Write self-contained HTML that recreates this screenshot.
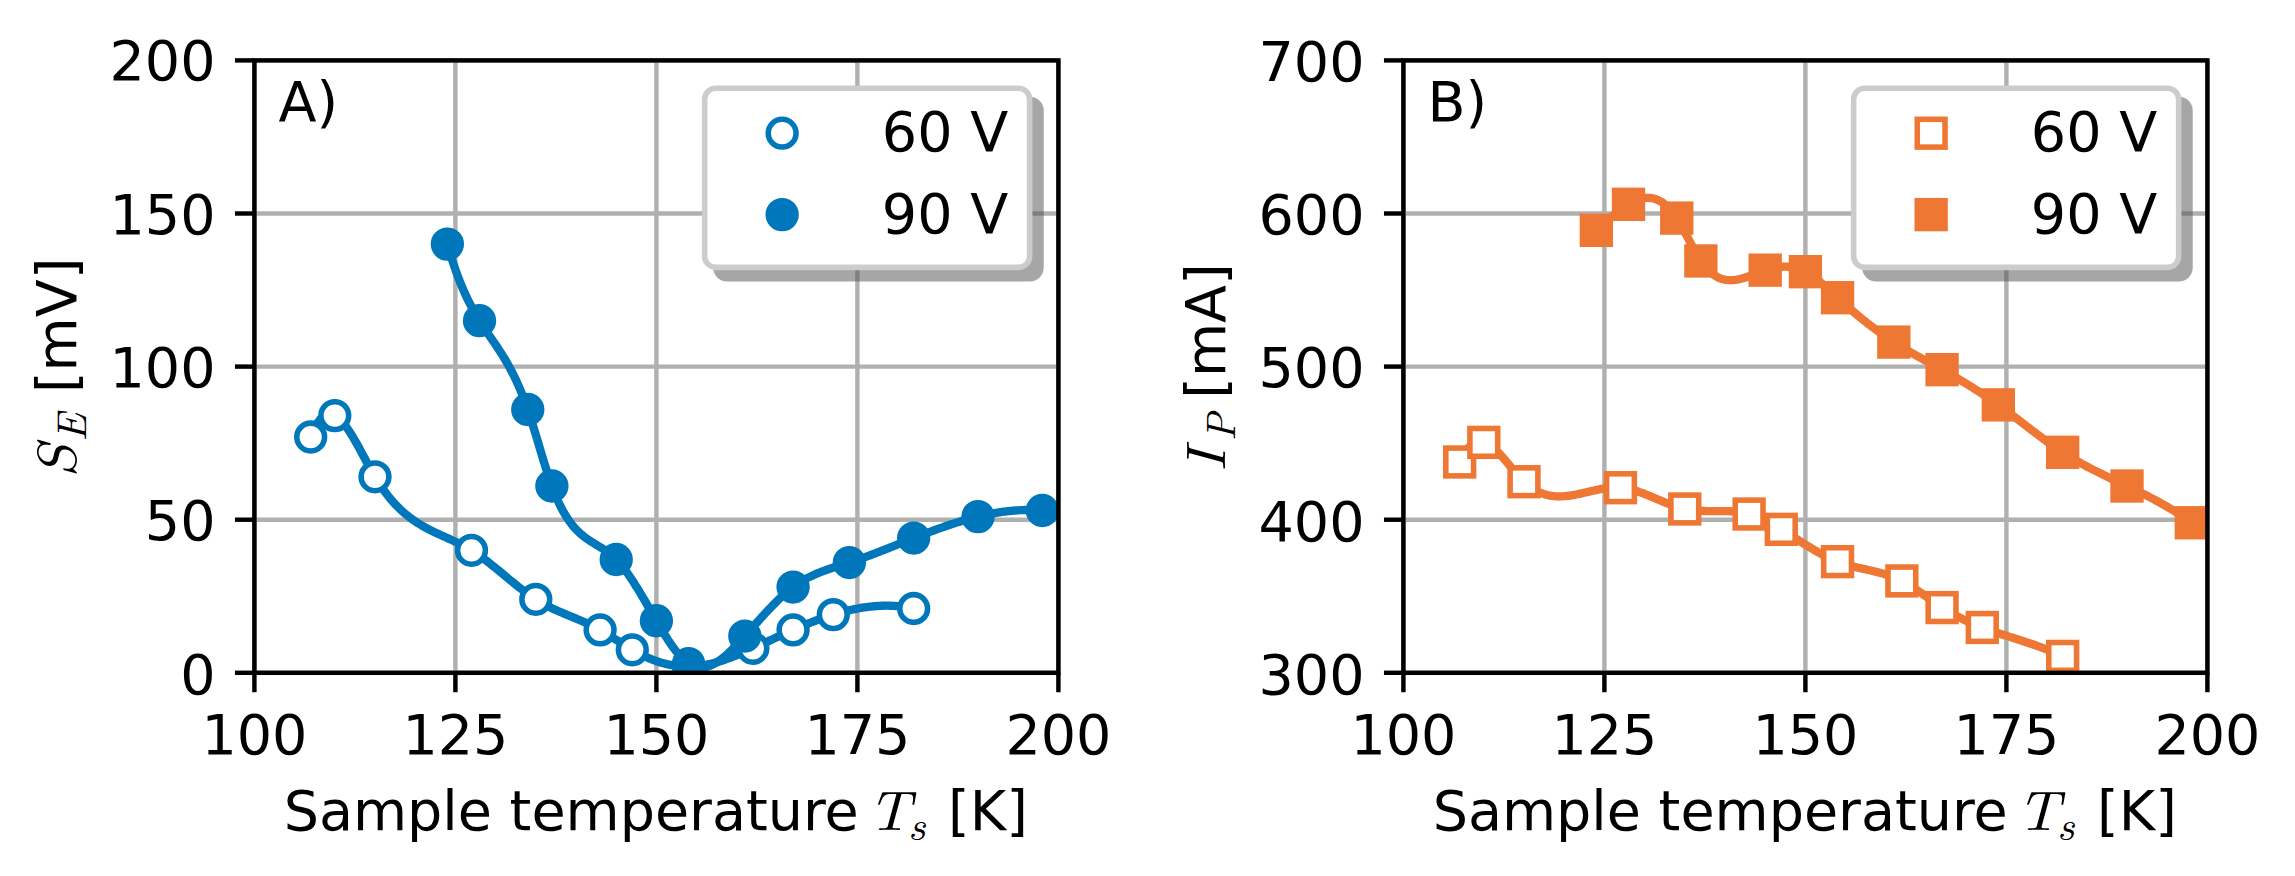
<!DOCTYPE html>
<html><head><meta charset="utf-8"><title>Figure</title>
<style>html,body{margin:0;padding:0;background:#fff}svg{display:block}</style></head><body>
<svg width="2295" height="876" viewBox="0 0 2295 876">
<rect width="2295" height="876" fill="#fff"/>
<clipPath id="clipA"><rect x="254.4" y="60.4" width="804.0000000000001" height="612.4"/></clipPath>
<g stroke="#b0b0b0" stroke-width="4.44" fill="none">
<line x1="254.40" y1="672.8" x2="254.40" y2="60.4"/>
<line x1="455.40" y1="672.8" x2="455.40" y2="60.4"/>
<line x1="656.40" y1="672.8" x2="656.40" y2="60.4"/>
<line x1="857.40" y1="672.8" x2="857.40" y2="60.4"/>
<line x1="1058.40" y1="672.8" x2="1058.40" y2="60.4"/>
<line x1="254.4" y1="672.80" x2="1058.4" y2="672.80"/>
<line x1="254.4" y1="519.70" x2="1058.4" y2="519.70"/>
<line x1="254.4" y1="366.60" x2="1058.4" y2="366.60"/>
<line x1="254.4" y1="213.50" x2="1058.4" y2="213.50"/>
<line x1="254.4" y1="60.40" x2="1058.4" y2="60.40"/>
</g>
<g clip-path="url(#clipA)">
<polyline points="310.68,437.03 312.19,433.27 313.70,429.90 315.21,426.88 316.73,424.21 318.24,421.89 319.75,419.89 321.26,418.21 322.77,416.84 324.28,415.76 325.79,414.97 327.30,414.46 328.82,414.21 330.33,414.21 331.84,414.45 333.35,414.93 334.86,415.62 336.37,416.53 337.88,417.63 339.39,418.92 340.91,420.39 342.42,422.03 343.93,423.81 345.44,425.75 346.95,427.81 348.46,430.00 349.97,432.30 351.48,434.70 353.00,437.20 354.51,439.76 356.02,442.40 357.53,445.10 359.04,447.84 360.55,450.62 362.06,453.42 363.57,456.23 365.09,459.05 366.60,461.86 368.11,464.65 369.62,467.41 371.13,470.13 372.64,472.80 374.15,475.40 375.66,477.94 377.18,480.39 378.69,482.77 380.20,485.07 381.71,487.30 383.22,489.46 384.73,491.54 386.24,493.56 387.76,495.51 389.27,497.40 390.78,499.22 392.29,500.98 393.80,502.68 395.31,504.32 396.82,505.91 398.33,507.44 399.85,508.92 401.36,510.35 402.87,511.73 404.38,513.05 405.89,514.34 407.40,515.58 408.91,516.77 410.42,517.93 411.94,519.04 413.45,520.12 414.96,521.16 416.47,522.17 417.98,523.14 419.49,524.08 421.00,525.00 422.51,525.89 424.03,526.75 425.54,527.58 427.05,528.40 428.56,529.19 430.07,529.97 431.58,530.72 433.09,531.46 434.60,532.19 436.12,532.91 437.63,533.61 439.14,534.31 440.65,535.00 442.16,535.69 443.67,536.37 445.18,537.04 446.70,537.72 448.21,538.40 449.72,539.09 451.23,539.78 452.74,540.47 454.25,541.17 455.76,541.89 457.27,542.61 458.79,543.35 460.30,544.10 461.81,544.88 463.32,545.66 464.83,546.47 466.34,547.31 467.85,548.16 469.36,549.04 470.88,549.95 472.39,550.89 473.90,551.85 475.41,552.84 476.92,553.86 478.43,554.90 479.94,555.97 481.45,557.06 482.97,558.17 484.48,559.30 485.99,560.44 487.50,561.60 489.01,562.78 490.52,563.97 492.03,565.17 493.54,566.39 495.06,567.61 496.57,568.85 498.08,570.08 499.59,571.33 501.10,572.58 502.61,573.83 504.12,575.08 505.63,576.34 507.15,577.59 508.66,578.84 510.17,580.09 511.68,581.33 513.19,582.56 514.70,583.79 516.21,585.00 517.73,586.21 519.24,587.40 520.75,588.58 522.26,589.75 523.77,590.90 525.28,592.03 526.79,593.14 528.30,594.24 529.82,595.31 531.33,596.36 532.84,597.38 534.35,598.38 535.86,599.35 537.37,600.29 538.88,601.21 540.39,602.10 541.91,602.97 543.42,603.81 544.93,604.63 546.44,605.43 547.95,606.21 549.46,606.97 550.97,607.71 552.48,608.44 554.00,609.15 555.51,609.85 557.02,610.53 558.53,611.21 560.04,611.87 561.55,612.53 563.06,613.17 564.57,613.81 566.09,614.45 567.60,615.08 569.11,615.71 570.62,616.33 572.13,616.96 573.64,617.59 575.15,618.21 576.66,618.85 578.18,619.48 579.69,620.12 581.20,620.77 582.71,621.42 584.22,622.09 585.73,622.76 587.24,623.45 588.76,624.15 590.27,624.86 591.78,625.59 593.29,626.33 594.80,627.09 596.31,627.87 597.82,628.67 599.33,629.50 600.85,630.34 602.36,631.21 603.87,632.09 605.38,632.99 606.89,633.91 608.40,634.85 609.91,635.79 611.42,636.75 612.94,637.71 614.45,638.68 615.96,639.65 617.47,640.62 618.98,641.60 620.49,642.57 622.00,643.53 623.51,644.49 625.03,645.45 626.54,646.39 628.05,647.32 629.56,648.23 631.07,649.13 632.58,650.01 634.09,650.87 635.60,651.71 637.12,652.53 638.63,653.32 640.14,654.10 641.65,654.86 643.16,655.59 644.67,656.30 646.18,656.99 647.70,657.66 649.21,658.31 650.72,658.93 652.23,659.53 653.74,660.11 655.25,660.67 656.76,661.20 658.27,661.71 659.79,662.19 661.30,662.66 662.81,663.09 664.32,663.51 665.83,663.90 667.34,664.26 668.85,664.60 670.36,664.92 671.88,665.21 673.39,665.47 674.90,665.71 676.41,665.92 677.92,666.11 679.43,666.27 680.94,666.40 682.45,666.51 683.97,666.59 685.48,666.65 686.99,666.68 688.50,666.68 690.01,666.65 691.52,666.59 693.03,666.51 694.54,666.41 696.06,666.28 697.57,666.12 699.08,665.94 700.59,665.73 702.10,665.51 703.61,665.26 705.12,664.98 706.63,664.69 708.15,664.38 709.66,664.04 711.17,663.69 712.68,663.31 714.19,662.92 715.70,662.51 717.21,662.08 718.73,661.64 720.24,661.18 721.75,660.70 723.26,660.21 724.77,659.70 726.28,659.18 727.79,658.65 729.30,658.10 730.82,657.54 732.33,656.97 733.84,656.39 735.35,655.79 736.86,655.19 738.37,654.58 739.88,653.95 741.39,653.32 742.91,652.68 744.42,652.04 745.93,651.38 747.44,650.72 748.95,650.06 750.46,649.39 751.97,648.71 753.48,648.03 755.00,647.35 756.51,646.66 758.02,645.97 759.53,645.28 761.04,644.59 762.55,643.89 764.06,643.19 765.57,642.50 767.09,641.80 768.60,641.10 770.11,640.39 771.62,639.69 773.13,638.99 774.64,638.29 776.15,637.59 777.66,636.90 779.18,636.20 780.69,635.51 782.20,634.82 783.71,634.13 785.22,633.44 786.73,632.76 788.24,632.08 789.76,631.40 791.27,630.73 792.78,630.06 794.29,629.40 795.80,628.75 797.31,628.09 798.82,627.45 800.33,626.81 801.85,626.17 803.36,625.55 804.87,624.92 806.38,624.31 807.89,623.70 809.40,623.10 810.91,622.50 812.42,621.91 813.94,621.33 815.45,620.76 816.96,620.19 818.47,619.63 819.98,619.08 821.49,618.54 823.00,618.01 824.51,617.48 826.03,616.97 827.54,616.46 829.05,615.96 830.56,615.48 832.07,615.00 833.58,614.53 835.09,614.07 836.60,613.62 838.12,613.18 839.63,612.75 841.14,612.34 842.65,611.93 844.16,611.54 845.67,611.15 847.18,610.78 848.70,610.42 850.21,610.07 851.72,609.73 853.23,609.40 854.74,609.09 856.25,608.79 857.76,608.50 859.27,608.23 860.79,607.97 862.30,607.72 863.81,607.48 865.32,607.26 866.83,607.06 868.34,606.86 869.85,606.68 871.36,606.52 872.88,606.37 874.39,606.23 875.90,606.11 877.41,606.01 878.92,605.92 880.43,605.84 881.94,605.78 883.45,605.74 884.97,605.71 886.48,605.70 887.99,605.71 889.50,605.73 891.01,605.77 892.52,605.82 894.03,605.90 895.54,605.99 897.06,606.10 898.57,606.22 900.08,606.37 901.59,606.53 903.10,606.71 904.61,606.91 906.12,607.12 907.63,607.36 909.15,607.62 910.66,607.89 912.17,608.18 913.68,608.50" fill="none" stroke="#0077bb" stroke-width="8.33" stroke-linejoin="round" stroke-linecap="butt"/>
<circle cx="310.68" cy="437.03" r="13.89" fill="#ffffff" stroke="#0077bb" stroke-width="5.56"/>
<circle cx="334.80" cy="415.59" r="13.89" fill="#ffffff" stroke="#0077bb" stroke-width="5.56"/>
<circle cx="375.00" cy="476.83" r="13.89" fill="#ffffff" stroke="#0077bb" stroke-width="5.56"/>
<circle cx="471.48" cy="550.32" r="13.89" fill="#ffffff" stroke="#0077bb" stroke-width="5.56"/>
<circle cx="535.80" cy="599.31" r="13.89" fill="#ffffff" stroke="#0077bb" stroke-width="5.56"/>
<circle cx="600.12" cy="629.93" r="13.89" fill="#ffffff" stroke="#0077bb" stroke-width="5.56"/>
<circle cx="632.28" cy="649.83" r="13.89" fill="#ffffff" stroke="#0077bb" stroke-width="5.56"/>
<circle cx="688.56" cy="666.68" r="13.89" fill="#ffffff" stroke="#0077bb" stroke-width="5.56"/>
<circle cx="752.88" cy="648.30" r="13.89" fill="#ffffff" stroke="#0077bb" stroke-width="5.56"/>
<circle cx="793.08" cy="629.93" r="13.89" fill="#ffffff" stroke="#0077bb" stroke-width="5.56"/>
<circle cx="833.28" cy="614.62" r="13.89" fill="#ffffff" stroke="#0077bb" stroke-width="5.56"/>
<circle cx="913.68" cy="608.50" r="13.89" fill="#ffffff" stroke="#0077bb" stroke-width="5.56"/>
<polyline points="447.36,244.12 448.85,249.28 450.34,254.23 451.83,258.99 453.32,263.56 454.82,267.95 456.31,272.16 457.80,276.21 459.29,280.10 460.78,283.83 462.27,287.42 463.76,290.86 465.25,294.18 466.74,297.37 468.24,300.45 469.73,303.42 471.22,306.28 472.71,309.05 474.20,311.72 475.69,314.32 477.18,316.85 478.67,319.30 480.16,321.70 481.66,324.04 483.15,326.34 484.64,328.60 486.13,330.83 487.62,333.04 489.11,335.23 490.60,337.41 492.09,339.59 493.58,341.77 495.08,343.96 496.57,346.18 498.06,348.42 499.55,350.69 501.04,353.01 502.53,355.37 504.02,357.79 505.51,360.27 507.01,362.82 508.50,365.44 509.99,368.15 511.48,370.95 512.97,373.85 514.46,376.86 515.95,379.97 517.44,383.21 518.93,386.57 520.43,390.07 521.92,393.71 523.41,397.50 524.90,401.44 526.39,405.55 527.88,409.82 529.37,414.27 530.86,418.86 532.35,423.59 533.85,428.41 535.34,433.32 536.83,438.28 538.32,443.27 539.81,448.27 541.30,453.25 542.79,458.19 544.28,463.06 545.77,467.85 547.27,472.52 548.76,477.06 550.25,481.44 551.74,485.63 553.23,489.62 554.72,493.40 556.21,496.99 557.70,500.39 559.19,503.60 560.69,506.64 562.18,509.50 563.67,512.21 565.16,514.76 566.65,517.16 568.14,519.42 569.63,521.55 571.12,523.55 572.61,525.43 574.11,527.19 575.60,528.85 577.09,530.42 578.58,531.88 580.07,533.27 581.56,534.57 583.05,535.81 584.54,536.98 586.03,538.09 587.53,539.15 589.02,540.17 590.51,541.16 592.00,542.11 593.49,543.05 594.98,543.96 596.47,544.87 597.96,545.78 599.46,546.70 600.95,547.63 602.44,548.57 603.93,549.55 605.42,550.56 606.91,551.61 608.40,552.71 609.89,553.86 611.38,555.07 612.88,556.36 614.37,557.72 615.86,559.16 617.35,560.69 618.84,562.32 620.33,564.02 621.82,565.81 623.31,567.67 624.80,569.61 626.30,571.62 627.79,573.69 629.28,575.82 630.77,578.01 632.26,580.26 633.75,582.55 635.24,584.89 636.73,587.27 638.22,589.69 639.72,592.14 641.21,594.63 642.70,597.14 644.19,599.67 645.68,602.22 647.17,604.78 648.66,607.36 650.15,609.94 651.64,612.53 653.14,615.11 654.63,617.69 656.12,620.26 657.61,622.82 659.10,625.36 660.59,627.87 662.08,630.36 663.57,632.81 665.06,635.22 666.56,637.59 668.05,639.91 669.54,642.16 671.03,644.36 672.52,646.49 674.01,648.54 675.50,650.52 676.99,652.41 678.48,654.21 679.98,655.92 681.47,657.53 682.96,659.03 684.45,660.41 685.94,661.68 687.43,662.83 688.92,663.85 690.41,664.74 691.90,665.50 693.40,666.13 694.89,666.64 696.38,667.03 697.87,667.31 699.36,667.48 700.85,667.53 702.34,667.49 703.83,667.34 705.33,667.09 706.82,666.74 708.31,666.31 709.80,665.78 711.29,665.17 712.78,664.48 714.27,663.71 715.76,662.86 717.25,661.94 718.75,660.96 720.24,659.90 721.73,658.79 723.22,657.62 724.71,656.39 726.20,655.11 727.69,653.78 729.18,652.40 730.67,650.98 732.17,649.53 733.66,648.04 735.15,646.51 736.64,644.96 738.13,643.38 739.62,641.78 741.11,640.16 742.60,638.53 744.09,636.88 745.59,635.23 747.08,633.57 748.57,631.90 750.06,630.23 751.55,628.56 753.04,626.88 754.53,625.21 756.02,623.54 757.51,621.87 759.01,620.21 760.50,618.56 761.99,616.91 763.48,615.28 764.97,613.66 766.46,612.04 767.95,610.45 769.44,608.86 770.93,607.30 772.43,605.75 773.92,604.23 775.41,602.72 776.90,601.24 778.39,599.79 779.88,598.36 781.37,596.95 782.86,595.58 784.35,594.24 785.85,592.92 787.34,591.65 788.83,590.40 790.32,589.20 791.81,588.03 793.30,586.90 794.79,585.81 796.28,584.76 797.78,583.75 799.27,582.77 800.76,581.83 802.25,580.92 803.74,580.05 805.23,579.21 806.72,578.40 808.21,577.61 809.70,576.86 811.20,576.13 812.69,575.43 814.18,574.75 815.67,574.09 817.16,573.46 818.65,572.84 820.14,572.25 821.63,571.67 823.12,571.11 824.62,570.56 826.11,570.03 827.60,569.51 829.09,569.00 830.58,568.50 832.07,568.01 833.56,567.53 835.05,567.06 836.54,566.59 838.04,566.12 839.53,565.66 841.02,565.19 842.51,564.73 844.00,564.27 845.49,563.80 846.98,563.33 848.47,562.85 849.96,562.37 851.46,561.88 852.95,561.39 854.44,560.89 855.93,560.38 857.42,559.86 858.91,559.34 860.40,558.82 861.89,558.29 863.38,557.75 864.88,557.21 866.37,556.66 867.86,556.11 869.35,555.56 870.84,555.00 872.33,554.43 873.82,553.87 875.31,553.30 876.80,552.72 878.30,552.14 879.79,551.56 881.28,550.98 882.77,550.40 884.26,549.81 885.75,549.22 887.24,548.63 888.73,548.03 890.22,547.44 891.72,546.84 893.21,546.25 894.70,545.65 896.19,545.05 897.68,544.45 899.17,543.86 900.66,543.26 902.15,542.66 903.65,542.06 905.14,541.47 906.63,540.87 908.12,540.28 909.61,539.68 911.10,539.09 912.59,538.50 914.08,537.91 915.57,537.33 917.07,536.74 918.56,536.16 920.05,535.59 921.54,535.01 923.03,534.44 924.52,533.87 926.01,533.30 927.50,532.74 928.99,532.18 930.49,531.62 931.98,531.07 933.47,530.52 934.96,529.98 936.45,529.44 937.94,528.90 939.43,528.37 940.92,527.85 942.41,527.33 943.91,526.81 945.40,526.30 946.89,525.79 948.38,525.29 949.87,524.79 951.36,524.30 952.85,523.82 954.34,523.34 955.83,522.87 957.33,522.40 958.82,521.94 960.31,521.48 961.80,521.04 963.29,520.60 964.78,520.16 966.27,519.74 967.76,519.32 969.25,518.90 970.75,518.50 972.24,518.10 973.73,517.71 975.22,517.33 976.71,516.95 978.20,516.59 979.69,516.23 981.18,515.88 982.67,515.54 984.17,515.21 985.66,514.89 987.15,514.57 988.64,514.27 990.13,513.97 991.62,513.68 993.11,513.41 994.60,513.14 996.10,512.88 997.59,512.63 999.08,512.40 1000.57,512.17 1002.06,511.95 1003.55,511.74 1005.04,511.55 1006.53,511.36 1008.02,511.19 1009.52,511.03 1011.01,510.87 1012.50,510.73 1013.99,510.60 1015.48,510.49 1016.97,510.38 1018.46,510.29 1019.95,510.20 1021.44,510.13 1022.94,510.08 1024.43,510.03 1025.92,510.00 1027.41,509.98 1028.90,509.97 1030.39,509.98 1031.88,510.00 1033.37,510.03 1034.86,510.08 1036.36,510.14 1037.85,510.21 1039.34,510.30 1040.83,510.40 1042.32,510.51" fill="none" stroke="#0077bb" stroke-width="8.33" stroke-linejoin="round" stroke-linecap="butt"/>
<circle cx="447.36" cy="244.12" r="13.89" fill="#0077bb" stroke="#0077bb" stroke-width="5.56"/>
<circle cx="479.52" cy="320.67" r="13.89" fill="#0077bb" stroke="#0077bb" stroke-width="5.56"/>
<circle cx="527.76" cy="409.47" r="13.89" fill="#0077bb" stroke="#0077bb" stroke-width="5.56"/>
<circle cx="551.88" cy="486.02" r="13.89" fill="#0077bb" stroke="#0077bb" stroke-width="5.56"/>
<circle cx="616.20" cy="559.51" r="13.89" fill="#0077bb" stroke="#0077bb" stroke-width="5.56"/>
<circle cx="656.40" cy="620.75" r="13.89" fill="#0077bb" stroke="#0077bb" stroke-width="5.56"/>
<circle cx="688.56" cy="663.61" r="13.89" fill="#0077bb" stroke="#0077bb" stroke-width="5.56"/>
<circle cx="744.84" cy="636.06" r="13.89" fill="#0077bb" stroke="#0077bb" stroke-width="5.56"/>
<circle cx="793.08" cy="587.06" r="13.89" fill="#0077bb" stroke="#0077bb" stroke-width="5.56"/>
<circle cx="849.36" cy="562.57" r="13.89" fill="#0077bb" stroke="#0077bb" stroke-width="5.56"/>
<circle cx="913.68" cy="538.07" r="13.89" fill="#0077bb" stroke="#0077bb" stroke-width="5.56"/>
<circle cx="978.00" cy="516.64" r="13.89" fill="#0077bb" stroke="#0077bb" stroke-width="5.56"/>
<circle cx="1042.32" cy="510.51" r="13.89" fill="#0077bb" stroke="#0077bb" stroke-width="5.56"/>
</g>
<g stroke="#000" stroke-width="4.44" fill="none">
<line x1="254.40" y1="672.8" x2="254.40" y2="692.24"/>
<line x1="455.40" y1="672.8" x2="455.40" y2="692.24"/>
<line x1="656.40" y1="672.8" x2="656.40" y2="692.24"/>
<line x1="857.40" y1="672.8" x2="857.40" y2="692.24"/>
<line x1="1058.40" y1="672.8" x2="1058.40" y2="692.24"/>
<line x1="254.4" y1="672.80" x2="234.96" y2="672.80"/>
<line x1="254.4" y1="519.70" x2="234.96" y2="519.70"/>
<line x1="254.4" y1="366.60" x2="234.96" y2="366.60"/>
<line x1="254.4" y1="213.50" x2="234.96" y2="213.50"/>
<line x1="254.4" y1="60.40" x2="234.96" y2="60.40"/>
<rect x="254.4" y="60.4" width="804.0000000000001" height="612.4" stroke-linejoin="miter"/>
</g>
<g font-family='"DejaVu Sans", "Liberation Sans", sans-serif' font-size="55.56" fill="#000">
<text x="254.40" y="754.4" text-anchor="middle">100</text>
<text x="455.40" y="754.4" text-anchor="middle">125</text>
<text x="656.40" y="754.4" text-anchor="middle">150</text>
<text x="857.40" y="754.4" text-anchor="middle">175</text>
<text x="1058.40" y="754.4" text-anchor="middle">200</text>
<text x="215.52" y="693.90" text-anchor="end">0</text>
<text x="215.52" y="540.00" text-anchor="end">50</text>
<text x="215.52" y="386.70" text-anchor="end">100</text>
<text x="215.52" y="233.60" text-anchor="end">150</text>
<text x="215.52" y="80.20" text-anchor="end">200</text>
<text x="278.40" y="120.6">A)</text>
</g>
<clipPath id="clipB"><rect x="1403.4" y="60.4" width="804.0" height="612.4"/></clipPath>
<g stroke="#b0b0b0" stroke-width="4.44" fill="none">
<line x1="1403.40" y1="672.8" x2="1403.40" y2="60.4"/>
<line x1="1604.40" y1="672.8" x2="1604.40" y2="60.4"/>
<line x1="1805.40" y1="672.8" x2="1805.40" y2="60.4"/>
<line x1="2006.40" y1="672.8" x2="2006.40" y2="60.4"/>
<line x1="2207.40" y1="672.8" x2="2207.40" y2="60.4"/>
<line x1="1403.4" y1="672.80" x2="2207.4" y2="672.80"/>
<line x1="1403.4" y1="519.70" x2="2207.4" y2="519.70"/>
<line x1="1403.4" y1="366.60" x2="2207.4" y2="366.60"/>
<line x1="1403.4" y1="213.50" x2="2207.4" y2="213.50"/>
<line x1="1403.4" y1="60.40" x2="2207.4" y2="60.40"/>
</g>
<g clip-path="url(#clipB)">
<polyline points="1459.68,461.98 1461.19,458.85 1462.70,456.01 1464.21,453.47 1465.73,451.20 1467.24,449.20 1468.75,447.46 1470.26,445.98 1471.77,444.73 1473.28,443.72 1474.79,442.94 1476.30,442.36 1477.82,442.00 1479.33,441.83 1480.84,441.84 1482.35,442.04 1483.86,442.40 1485.37,442.93 1486.88,443.60 1488.39,444.41 1489.91,445.36 1491.42,446.43 1492.93,447.61 1494.44,448.90 1495.95,450.28 1497.46,451.75 1498.97,453.29 1500.48,454.90 1502.00,456.57 1503.51,458.29 1505.02,460.05 1506.53,461.84 1508.04,463.65 1509.55,465.47 1511.06,467.30 1512.57,469.12 1514.09,470.92 1515.60,472.70 1517.11,474.45 1518.62,476.15 1520.13,477.80 1521.64,479.39 1523.15,480.91 1524.66,482.35 1526.18,483.71 1527.69,484.99 1529.20,486.18 1530.71,487.30 1532.22,488.34 1533.73,489.30 1535.24,490.20 1536.76,491.02 1538.27,491.78 1539.78,492.47 1541.29,493.10 1542.80,493.66 1544.31,494.17 1545.82,494.61 1547.33,495.01 1548.85,495.34 1550.36,495.63 1551.87,495.87 1553.38,496.05 1554.89,496.20 1556.40,496.30 1557.91,496.35 1559.42,496.37 1560.94,496.35 1562.45,496.30 1563.96,496.21 1565.47,496.09 1566.98,495.94 1568.49,495.76 1570.00,495.55 1571.51,495.33 1573.03,495.08 1574.54,494.81 1576.05,494.52 1577.56,494.22 1579.07,493.91 1580.58,493.58 1582.09,493.24 1583.60,492.90 1585.12,492.55 1586.63,492.20 1588.14,491.85 1589.65,491.49 1591.16,491.14 1592.67,490.80 1594.18,490.46 1595.70,490.13 1597.21,489.81 1598.72,489.50 1600.23,489.21 1601.74,488.93 1603.25,488.67 1604.76,488.44 1606.27,488.22 1607.79,488.04 1609.30,487.87 1610.81,487.74 1612.32,487.64 1613.83,487.57 1615.34,487.53 1616.85,487.53 1618.36,487.58 1619.88,487.66 1621.39,487.78 1622.90,487.95 1624.41,488.16 1625.92,488.40 1627.43,488.69 1628.94,489.01 1630.45,489.36 1631.97,489.74 1633.48,490.16 1634.99,490.60 1636.50,491.07 1638.01,491.56 1639.52,492.08 1641.03,492.61 1642.54,493.17 1644.06,493.74 1645.57,494.33 1647.08,494.93 1648.59,495.54 1650.10,496.16 1651.61,496.80 1653.12,497.43 1654.63,498.07 1656.15,498.72 1657.66,499.36 1659.17,500.00 1660.68,500.64 1662.19,501.28 1663.70,501.91 1665.21,502.53 1666.73,503.14 1668.24,503.74 1669.75,504.32 1671.26,504.89 1672.77,505.44 1674.28,505.97 1675.79,506.48 1677.30,506.97 1678.82,507.43 1680.33,507.87 1681.84,508.27 1683.35,508.65 1684.86,509.00 1686.37,509.31 1687.88,509.59 1689.39,509.84 1690.91,510.06 1692.42,510.25 1693.93,510.42 1695.44,510.56 1696.95,510.69 1698.46,510.79 1699.97,510.87 1701.48,510.94 1703.00,510.99 1704.51,511.03 1706.02,511.05 1707.53,511.07 1709.04,511.08 1710.55,511.08 1712.06,511.07 1713.57,511.07 1715.09,511.06 1716.60,511.05 1718.11,511.04 1719.62,511.04 1721.13,511.04 1722.64,511.04 1724.15,511.06 1725.66,511.08 1727.18,511.12 1728.69,511.17 1730.20,511.24 1731.71,511.32 1733.22,511.42 1734.73,511.54 1736.24,511.69 1737.76,511.85 1739.27,512.05 1740.78,512.26 1742.29,512.51 1743.80,512.79 1745.31,513.10 1746.82,513.44 1748.33,513.82 1749.85,514.24 1751.36,514.69 1752.87,515.18 1754.38,515.71 1755.89,516.26 1757.40,516.85 1758.91,517.47 1760.42,518.12 1761.94,518.80 1763.45,519.50 1764.96,520.23 1766.47,520.98 1767.98,521.76 1769.49,522.56 1771.00,523.37 1772.51,524.21 1774.03,525.06 1775.54,525.93 1777.05,526.81 1778.56,527.70 1780.07,528.61 1781.58,529.53 1783.09,530.46 1784.60,531.39 1786.12,532.33 1787.63,533.28 1789.14,534.24 1790.65,535.20 1792.16,536.16 1793.67,537.12 1795.18,538.09 1796.70,539.05 1798.21,540.02 1799.72,540.98 1801.23,541.94 1802.74,542.90 1804.25,543.85 1805.76,544.80 1807.27,545.74 1808.79,546.67 1810.30,547.59 1811.81,548.51 1813.32,549.41 1814.83,550.30 1816.34,551.18 1817.85,552.05 1819.36,552.90 1820.88,553.74 1822.39,554.56 1823.90,555.36 1825.41,556.14 1826.92,556.91 1828.43,557.65 1829.94,558.37 1831.45,559.07 1832.97,559.75 1834.48,560.40 1835.99,561.03 1837.50,561.63 1839.01,562.20 1840.52,562.75 1842.03,563.27 1843.54,563.77 1845.06,564.25 1846.57,564.70 1848.08,565.14 1849.59,565.56 1851.10,565.97 1852.61,566.36 1854.12,566.74 1855.63,567.11 1857.15,567.47 1858.66,567.82 1860.17,568.17 1861.68,568.51 1863.19,568.85 1864.70,569.18 1866.21,569.51 1867.73,569.85 1869.24,570.19 1870.75,570.53 1872.26,570.87 1873.77,571.23 1875.28,571.59 1876.79,571.96 1878.30,572.34 1879.82,572.74 1881.33,573.15 1882.84,573.58 1884.35,574.02 1885.86,574.48 1887.37,574.97 1888.88,575.47 1890.39,576.00 1891.91,576.55 1893.42,577.13 1894.93,577.74 1896.44,578.38 1897.95,579.05 1899.46,579.75 1900.97,580.48 1902.48,581.25 1904.00,582.06 1905.51,582.90 1907.02,583.76 1908.53,584.66 1910.04,585.59 1911.55,586.54 1913.06,587.51 1914.57,588.50 1916.09,589.51 1917.60,590.54 1919.11,591.58 1920.62,592.63 1922.13,593.69 1923.64,594.76 1925.15,595.84 1926.66,596.91 1928.18,597.99 1929.69,599.07 1931.20,600.14 1932.71,601.21 1934.22,602.27 1935.73,603.32 1937.24,604.36 1938.76,605.39 1940.27,606.39 1941.78,607.38 1943.29,608.35 1944.80,609.30 1946.31,610.23 1947.82,611.14 1949.33,612.03 1950.85,612.90 1952.36,613.75 1953.87,614.58 1955.38,615.40 1956.89,616.20 1958.40,616.98 1959.91,617.75 1961.42,618.50 1962.94,619.23 1964.45,619.95 1965.96,620.66 1967.47,621.35 1968.98,622.03 1970.49,622.69 1972.00,623.34 1973.51,623.99 1975.03,624.61 1976.54,625.23 1978.05,625.84 1979.56,626.43 1981.07,627.02 1982.58,627.60 1984.09,628.16 1985.60,628.72 1987.12,629.28 1988.63,629.82 1990.14,630.35 1991.65,630.88 1993.16,631.41 1994.67,631.92 1996.18,632.44 1997.70,632.94 1999.21,633.45 2000.72,633.94 2002.23,634.44 2003.74,634.93 2005.25,635.42 2006.76,635.91 2008.27,636.39 2009.79,636.87 2011.30,637.36 2012.81,637.84 2014.32,638.32 2015.83,638.80 2017.34,639.28 2018.85,639.77 2020.36,640.26 2021.88,640.74 2023.39,641.24 2024.90,641.73 2026.41,642.23 2027.92,642.73 2029.43,643.24 2030.94,643.75 2032.45,644.26 2033.97,644.79 2035.48,645.31 2036.99,645.85 2038.50,646.39 2040.01,646.94 2041.52,647.50 2043.03,648.07 2044.54,648.64 2046.06,649.23 2047.57,649.82 2049.08,650.43 2050.59,651.05 2052.10,651.67 2053.61,652.31 2055.12,652.96 2056.63,653.63 2058.15,654.31 2059.66,655.00 2061.17,655.70 2062.68,656.42" fill="none" stroke="#ee7733" stroke-width="8.33" stroke-linejoin="round" stroke-linecap="butt"/>
<rect x="1445.79" y="448.09" width="27.78" height="27.78" fill="#ffffff" stroke="#ee7733" stroke-width="5.56"/>
<rect x="1469.91" y="428.49" width="27.78" height="27.78" fill="#ffffff" stroke="#ee7733" stroke-width="5.56"/>
<rect x="1510.11" y="467.84" width="27.78" height="27.78" fill="#ffffff" stroke="#ee7733" stroke-width="5.56"/>
<rect x="1606.59" y="473.81" width="27.78" height="27.78" fill="#ffffff" stroke="#ee7733" stroke-width="5.56"/>
<rect x="1670.91" y="495.09" width="27.78" height="27.78" fill="#ffffff" stroke="#ee7733" stroke-width="5.56"/>
<rect x="1735.23" y="500.15" width="27.78" height="27.78" fill="#ffffff" stroke="#ee7733" stroke-width="5.56"/>
<rect x="1767.39" y="515.46" width="27.78" height="27.78" fill="#ffffff" stroke="#ee7733" stroke-width="5.56"/>
<rect x="1823.67" y="547.76" width="27.78" height="27.78" fill="#ffffff" stroke="#ee7733" stroke-width="5.56"/>
<rect x="1887.99" y="567.05" width="27.78" height="27.78" fill="#ffffff" stroke="#ee7733" stroke-width="5.56"/>
<rect x="1928.19" y="593.69" width="27.78" height="27.78" fill="#ffffff" stroke="#ee7733" stroke-width="5.56"/>
<rect x="1968.39" y="613.59" width="27.78" height="27.78" fill="#ffffff" stroke="#ee7733" stroke-width="5.56"/>
<rect x="2048.79" y="642.53" width="27.78" height="27.78" fill="#ffffff" stroke="#ee7733" stroke-width="5.56"/>
<polyline points="1596.36,230.34 1597.85,229.05 1599.34,227.75 1600.83,226.45 1602.32,225.13 1603.82,223.82 1605.31,222.50 1606.80,221.19 1608.29,219.88 1609.78,218.58 1611.27,217.30 1612.76,216.03 1614.25,214.78 1615.74,213.55 1617.24,212.34 1618.73,211.17 1620.22,210.02 1621.71,208.90 1623.20,207.82 1624.69,206.78 1626.18,205.79 1627.67,204.83 1629.16,203.93 1630.66,203.08 1632.15,202.28 1633.64,201.53 1635.13,200.85 1636.62,200.23 1638.11,199.68 1639.60,199.20 1641.09,198.79 1642.58,198.45 1644.08,198.19 1645.57,198.01 1647.06,197.92 1648.55,197.91 1650.04,197.99 1651.53,198.17 1653.02,198.44 1654.51,198.81 1656.01,199.29 1657.50,199.86 1658.99,200.55 1660.48,201.35 1661.97,202.26 1663.46,203.28 1664.95,204.43 1666.44,205.70 1667.93,207.10 1669.43,208.62 1670.92,210.28 1672.41,212.07 1673.90,214.00 1675.39,216.06 1676.88,218.28 1678.37,220.63 1679.86,223.11 1681.35,225.70 1682.85,228.38 1684.34,231.13 1685.83,233.93 1687.32,236.77 1688.81,239.62 1690.30,242.47 1691.79,245.29 1693.28,248.08 1694.77,250.81 1696.27,253.45 1697.76,256.01 1699.25,258.45 1700.74,260.75 1702.23,262.91 1703.72,264.91 1705.21,266.77 1706.70,268.49 1708.19,270.08 1709.69,271.53 1711.18,272.85 1712.67,274.05 1714.16,275.12 1715.65,276.09 1717.14,276.93 1718.63,277.68 1720.12,278.31 1721.61,278.85 1723.11,279.30 1724.60,279.65 1726.09,279.92 1727.58,280.10 1729.07,280.21 1730.56,280.24 1732.05,280.21 1733.54,280.10 1735.03,279.94 1736.53,279.72 1738.02,279.45 1739.51,279.12 1741.00,278.76 1742.49,278.35 1743.98,277.90 1745.47,277.43 1746.96,276.93 1748.46,276.40 1749.95,275.85 1751.44,275.29 1752.93,274.72 1754.42,274.14 1755.91,273.56 1757.40,272.98 1758.89,272.41 1760.38,271.85 1761.88,271.30 1763.37,270.77 1764.86,270.26 1766.35,269.78 1767.84,269.33 1769.33,268.91 1770.82,268.52 1772.31,268.16 1773.80,267.84 1775.30,267.55 1776.79,267.30 1778.28,267.09 1779.77,266.93 1781.26,266.80 1782.75,266.71 1784.24,266.67 1785.73,266.68 1787.22,266.73 1788.72,266.83 1790.21,266.98 1791.70,267.18 1793.19,267.44 1794.68,267.74 1796.17,268.11 1797.66,268.53 1799.15,269.01 1800.64,269.55 1802.14,270.15 1803.63,270.81 1805.12,271.53 1806.61,272.32 1808.10,273.18 1809.59,274.09 1811.08,275.06 1812.57,276.08 1814.06,277.15 1815.56,278.26 1817.05,279.42 1818.54,280.61 1820.03,281.84 1821.52,283.10 1823.01,284.39 1824.50,285.70 1825.99,287.04 1827.48,288.39 1828.98,289.75 1830.47,291.13 1831.96,292.51 1833.45,293.89 1834.94,295.28 1836.43,296.66 1837.92,298.04 1839.41,299.41 1840.90,300.76 1842.40,302.11 1843.89,303.45 1845.38,304.77 1846.87,306.09 1848.36,307.40 1849.85,308.69 1851.34,309.98 1852.83,311.26 1854.33,312.53 1855.82,313.78 1857.31,315.03 1858.80,316.26 1860.29,317.49 1861.78,318.70 1863.27,319.91 1864.76,321.10 1866.25,322.28 1867.75,323.45 1869.24,324.61 1870.73,325.76 1872.22,326.90 1873.71,328.02 1875.20,329.14 1876.69,330.24 1878.18,331.34 1879.67,332.42 1881.17,333.49 1882.66,334.55 1884.15,335.59 1885.64,336.63 1887.13,337.65 1888.62,338.66 1890.11,339.66 1891.60,340.65 1893.09,341.62 1894.59,342.58 1896.08,343.53 1897.57,344.47 1899.06,345.40 1900.55,346.32 1902.04,347.23 1903.53,348.13 1905.02,349.02 1906.51,349.90 1908.01,350.77 1909.50,351.63 1910.99,352.49 1912.48,353.34 1913.97,354.19 1915.46,355.03 1916.95,355.87 1918.44,356.70 1919.93,357.52 1921.43,358.35 1922.92,359.17 1924.41,359.99 1925.90,360.80 1927.39,361.62 1928.88,362.43 1930.37,363.24 1931.86,364.05 1933.35,364.87 1934.85,365.68 1936.34,366.50 1937.83,367.32 1939.32,368.14 1940.81,368.96 1942.30,369.79 1943.79,370.62 1945.28,371.45 1946.78,372.29 1948.27,373.13 1949.76,373.98 1951.25,374.83 1952.74,375.69 1954.23,376.55 1955.72,377.41 1957.21,378.29 1958.70,379.16 1960.20,380.04 1961.69,380.93 1963.18,381.83 1964.67,382.72 1966.16,383.63 1967.65,384.54 1969.14,385.46 1970.63,386.38 1972.12,387.31 1973.62,388.25 1975.11,389.19 1976.60,390.14 1978.09,391.10 1979.58,392.06 1981.07,393.03 1982.56,394.01 1984.05,395.00 1985.54,395.99 1987.04,397.00 1988.53,398.01 1990.02,399.02 1991.51,400.05 1993.00,401.08 1994.49,402.13 1995.98,403.18 1997.47,404.24 1998.96,405.31 2000.46,406.39 2001.95,407.47 2003.44,408.57 2004.93,409.67 2006.42,410.78 2007.91,411.89 2009.40,413.01 2010.89,414.14 2012.38,415.26 2013.88,416.40 2015.37,417.53 2016.86,418.67 2018.35,419.82 2019.84,420.96 2021.33,422.11 2022.82,423.25 2024.31,424.40 2025.80,425.54 2027.30,426.69 2028.79,427.83 2030.28,428.98 2031.77,430.12 2033.26,431.26 2034.75,432.39 2036.24,433.52 2037.73,434.65 2039.22,435.77 2040.72,436.88 2042.21,437.99 2043.70,439.09 2045.19,440.19 2046.68,441.28 2048.17,442.36 2049.66,443.43 2051.15,444.49 2052.65,445.54 2054.14,446.59 2055.63,447.62 2057.12,448.64 2058.61,449.65 2060.10,450.64 2061.59,451.63 2063.08,452.60 2064.57,453.55 2066.07,454.50 2067.56,455.43 2069.05,456.34 2070.54,457.25 2072.03,458.14 2073.52,459.02 2075.01,459.90 2076.50,460.76 2077.99,461.61 2079.49,462.44 2080.98,463.27 2082.47,464.09 2083.96,464.91 2085.45,465.71 2086.94,466.50 2088.43,467.29 2089.92,468.07 2091.41,468.84 2092.91,469.60 2094.40,470.36 2095.89,471.11 2097.38,471.86 2098.87,472.60 2100.36,473.34 2101.85,474.07 2103.34,474.79 2104.83,475.52 2106.33,476.23 2107.82,476.95 2109.31,477.66 2110.80,478.37 2112.29,479.08 2113.78,479.79 2115.27,480.49 2116.76,481.19 2118.25,481.90 2119.75,482.60 2121.24,483.30 2122.73,484.00 2124.22,484.70 2125.71,485.41 2127.20,486.11 2128.69,486.82 2130.18,487.53 2131.67,488.24 2133.17,488.95 2134.66,489.67 2136.15,490.39 2137.64,491.12 2139.13,491.84 2140.62,492.58 2142.11,493.32 2143.60,494.06 2145.10,494.81 2146.59,495.56 2148.08,496.32 2149.57,497.09 2151.06,497.87 2152.55,498.65 2154.04,499.44 2155.53,500.24 2157.02,501.04 2158.52,501.86 2160.01,502.68 2161.50,503.52 2162.99,504.36 2164.48,505.22 2165.97,506.08 2167.46,506.96 2168.95,507.85 2170.44,508.75 2171.94,509.66 2173.43,510.58 2174.92,511.52 2176.41,512.47 2177.90,513.43 2179.39,514.41 2180.88,515.40 2182.37,516.40 2183.86,517.42 2185.36,518.46 2186.85,519.51 2188.34,520.58 2189.83,521.66 2191.32,522.76" fill="none" stroke="#ee7733" stroke-width="8.33" stroke-linejoin="round" stroke-linecap="butt"/>
<rect x="1582.47" y="216.45" width="27.78" height="27.78" fill="#ee7733" stroke="#ee7733" stroke-width="5.56"/>
<rect x="1614.63" y="190.42" width="27.78" height="27.78" fill="#ee7733" stroke="#ee7733" stroke-width="5.56"/>
<rect x="1662.87" y="204.20" width="27.78" height="27.78" fill="#ee7733" stroke="#ee7733" stroke-width="5.56"/>
<rect x="1686.99" y="247.07" width="27.78" height="27.78" fill="#ee7733" stroke="#ee7733" stroke-width="5.56"/>
<rect x="1751.31" y="256.26" width="27.78" height="27.78" fill="#ee7733" stroke="#ee7733" stroke-width="5.56"/>
<rect x="1791.51" y="257.79" width="27.78" height="27.78" fill="#ee7733" stroke="#ee7733" stroke-width="5.56"/>
<rect x="1823.67" y="283.81" width="27.78" height="27.78" fill="#ee7733" stroke="#ee7733" stroke-width="5.56"/>
<rect x="1879.95" y="328.21" width="27.78" height="27.78" fill="#ee7733" stroke="#ee7733" stroke-width="5.56"/>
<rect x="1928.19" y="355.77" width="27.78" height="27.78" fill="#ee7733" stroke="#ee7733" stroke-width="5.56"/>
<rect x="1984.47" y="390.98" width="27.78" height="27.78" fill="#ee7733" stroke="#ee7733" stroke-width="5.56"/>
<rect x="2048.79" y="438.45" width="27.78" height="27.78" fill="#ee7733" stroke="#ee7733" stroke-width="5.56"/>
<rect x="2113.11" y="472.13" width="27.78" height="27.78" fill="#ee7733" stroke="#ee7733" stroke-width="5.56"/>
<rect x="2177.43" y="508.87" width="27.78" height="27.78" fill="#ee7733" stroke="#ee7733" stroke-width="5.56"/>
</g>
<g stroke="#000" stroke-width="4.44" fill="none">
<line x1="1403.40" y1="672.8" x2="1403.40" y2="692.24"/>
<line x1="1604.40" y1="672.8" x2="1604.40" y2="692.24"/>
<line x1="1805.40" y1="672.8" x2="1805.40" y2="692.24"/>
<line x1="2006.40" y1="672.8" x2="2006.40" y2="692.24"/>
<line x1="2207.40" y1="672.8" x2="2207.40" y2="692.24"/>
<line x1="1403.4" y1="672.80" x2="1383.96" y2="672.80"/>
<line x1="1403.4" y1="519.70" x2="1383.96" y2="519.70"/>
<line x1="1403.4" y1="366.60" x2="1383.96" y2="366.60"/>
<line x1="1403.4" y1="213.50" x2="1383.96" y2="213.50"/>
<line x1="1403.4" y1="60.40" x2="1383.96" y2="60.40"/>
<rect x="1403.4" y="60.4" width="804.0" height="612.4" stroke-linejoin="miter"/>
</g>
<g font-family='"DejaVu Sans", "Liberation Sans", sans-serif' font-size="55.56" fill="#000">
<text x="1403.40" y="754.4" text-anchor="middle">100</text>
<text x="1604.40" y="754.4" text-anchor="middle">125</text>
<text x="1805.40" y="754.4" text-anchor="middle">150</text>
<text x="2006.40" y="754.4" text-anchor="middle">175</text>
<text x="2207.40" y="754.4" text-anchor="middle">200</text>
<text x="1364.52" y="693.90" text-anchor="end">300</text>
<text x="1364.52" y="540.60" text-anchor="end">400</text>
<text x="1364.52" y="387.30" text-anchor="end">500</text>
<text x="1364.52" y="234.10" text-anchor="end">600</text>
<text x="1364.52" y="81.00" text-anchor="end">700</text>
<text x="1427.40" y="120.6">B)</text>
</g>
<g font-family='"DejaVu Sans", "Liberation Sans", sans-serif' font-size="55.56" fill="#000">
<text x="283.7" y="830">Sample temperature </text>
<text x="948.1" y="830">[K]</text>
</g>
<g font-family='"Latin Modern Roman", "Liberation Serif", serif' font-style="italic" fill="#000">
<text transform="translate(867.4,830) scale(1.09,1)" x="19.89" text-anchor="middle" font-size="55.56">T</text>
<text transform="translate(908.0,840.2) scale(1.1,1.05)" x="7.95" text-anchor="middle" font-size="38.9">s</text>
</g>
<g font-family='"DejaVu Sans", "Liberation Sans", sans-serif' font-size="55.56" fill="#000">
<text x="1432.7" y="830">Sample temperature </text>
<text x="2097.1" y="830">[K]</text>
</g>
<g font-family='"Latin Modern Roman", "Liberation Serif", serif' font-style="italic" fill="#000">
<text transform="translate(2016.4,830) scale(1.09,1)" x="19.89" text-anchor="middle" font-size="55.56">T</text>
<text transform="translate(2057.0,840.2) scale(1.1,1.05)" x="7.95" text-anchor="middle" font-size="38.9">s</text>
</g>
<g transform="translate(76.2,366.6) rotate(-90)" fill="#000">
<text transform="translate(-111.5,0) scale(1.09,1)" x="15.61" text-anchor="middle" font-family='"Latin Modern Roman", "Liberation Serif", serif' font-style="italic" font-size="55.56">S</text>
<text transform="translate(-74.9,9.4) scale(1.07)" x="13.19" text-anchor="middle" font-family='"Latin Modern Roman", "Liberation Serif", serif' font-style="italic" font-size="38.9">E</text>
<text x="-26.5" y="0" font-family='"DejaVu Sans", "Liberation Sans", sans-serif' font-size="55.56">[mV]</text>
</g>
<g transform="translate(1225.2,366.6) rotate(-90)" fill="#000">
<text transform="translate(-105.4,0) scale(1.09,1)" x="10.73" text-anchor="middle" font-family='"Latin Modern Roman", "Liberation Serif", serif' font-style="italic" font-size="55.56">I</text>
<text transform="translate(-74.3,9.6) scale(1.07)" x="13.19" text-anchor="middle" font-family='"Latin Modern Roman", "Liberation Serif", serif' font-style="italic" font-size="38.9">P</text>
<text x="-32.2" y="0" font-family='"DejaVu Sans", "Liberation Sans", sans-serif' font-size="55.56">[mA]</text>
</g>
<rect x="713.17" y="96.72" width="330.56" height="184.76" rx="13.88" fill="#4d4d4d" fill-opacity="0.5"/>
<rect x="704.65" y="88.20" width="325" height="179.2" rx="11.1" fill="#fff" stroke="#cccccc" stroke-width="5.56"/>
<circle cx="782.15" cy="133.20" r="13.89" fill="#fff" stroke="#0077bb" stroke-width="5.56"/>
<text x="881.85" y="151.30" font-family='"DejaVu Sans", "Liberation Sans", sans-serif' font-size="55.56">60 V</text>
<circle cx="782.15" cy="214.60" r="13.89" fill="#0077bb" stroke="#0077bb" stroke-width="5.56"/>
<text x="881.85" y="232.70" font-family='"DejaVu Sans", "Liberation Sans", sans-serif' font-size="55.56">90 V</text>
<rect x="1862.17" y="96.72" width="330.56" height="184.76" rx="13.88" fill="#4d4d4d" fill-opacity="0.5"/>
<rect x="1853.65" y="88.20" width="325" height="179.2" rx="11.1" fill="#fff" stroke="#cccccc" stroke-width="5.56"/>
<rect x="1917.26" y="119.31" width="27.78" height="27.78" fill="#fff" stroke="#ee7733" stroke-width="5.56"/>
<text x="2030.85" y="151.30" font-family='"DejaVu Sans", "Liberation Sans", sans-serif' font-size="55.56">60 V</text>
<rect x="1917.26" y="200.71" width="27.78" height="27.78" fill="#ee7733" stroke="#ee7733" stroke-width="5.56"/>
<text x="2030.85" y="232.70" font-family='"DejaVu Sans", "Liberation Sans", sans-serif' font-size="55.56">90 V</text>
</svg>
</body></html>
